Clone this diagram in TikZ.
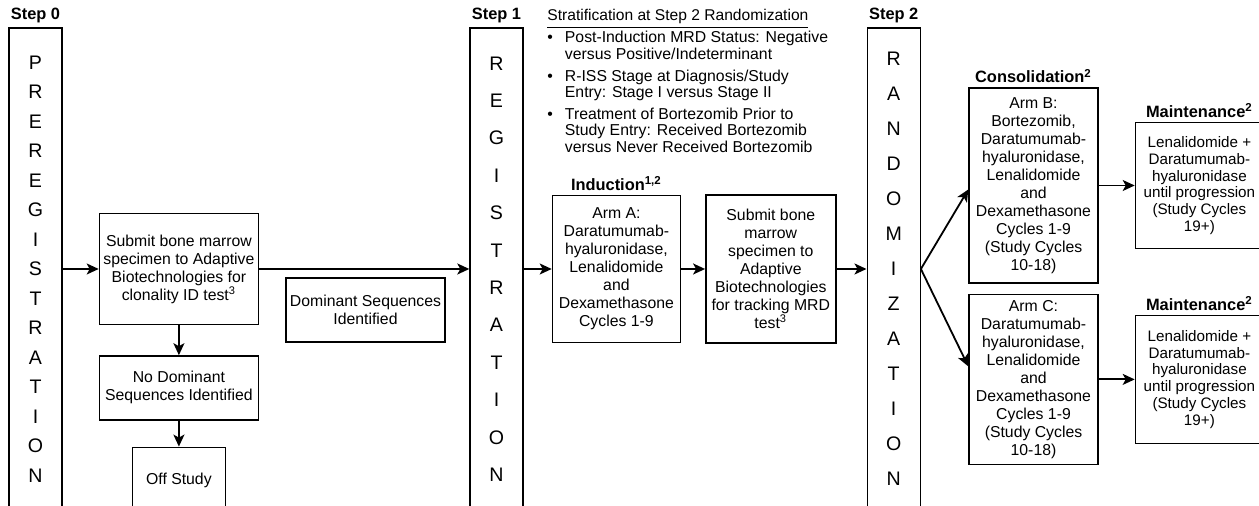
\documentclass[tikz,border=0pt]{standalone}
\usepackage{fontspec}
\setmainfont{Liberation Sans}
\usetikzlibrary{positioning,arrows.meta}

\begin{document}
\begin{tikzpicture}[x=0.5pt,y=-0.5pt,
  box/.style={draw,line width=0.7pt,align=center,inner sep=1pt,font=\fontsize{7.9}{9}\selectfont},
  stepbar/.style={draw,line width=0.7pt,align=center,inner sep=0pt,minimum width=26.5pt,minimum height=241pt},
  steplabel/.style={inner sep=1pt,font=\fontsize{8.2}{9}\selectfont\bfseries},
  flow/.style={-{Stealth[length=6pt,width=5.5pt,inset=1.5pt]},line width=0.9pt}]

  \clip (0,0) rectangle (1259,506);

  % Nodes

  \node[stepbar,font=\fontsize{9.8}{14.75}\selectfont] (pre_reg) at (35.5,269) {P\\R\\E\\R\\E\\G\\I\\S\\T\\R\\A\\T\\I\\O\\N};
  \node[steplabel,above=1pt of pre_reg] (step_0) {Step 0};

  \node[box,minimum width=79.5pt,minimum height=55.5pt,right=18pt of pre_reg] (submit_id) {Submit bone marrow\\specimen to Adaptive\\Biotechnologies for\\clonality ID test\textsuperscript{3}};
  \node[box,minimum width=79.5pt,minimum height=32pt,below=15pt of submit_id] (no_dom) {No Dominant\\Sequences Identified};
  \node[box,minimum width=46.5pt,minimum height=33pt,below=13pt of no_dom] (off_study) {Off Study};
  \node[box,minimum width=79.5pt,minimum height=32pt] (dom_seq) at (365.5,310) {Dominant Sequences\\Identified};

  \node[stepbar,font=\fontsize{9.8}{18.7}\selectfont] (reg) at (496.5,269) {R\\E\\G\\I\\S\\T\\R\\A\\T\\I\\O\\N};
  \node[steplabel,above=1pt of reg] (step_1) {Step 1};

  \node[anchor=base west,inner sep=0pt,font=\fontsize{7.8}{8}\selectfont] (strat) at (547,21) {\underline{Stratification at Step 2 Randomization}};
  \node[anchor=north west,inner sep=0pt,font=\fontsize{7.9}{8}\selectfont] (strat_list) at (547,31) {%
    \begin{tabular}{@{}l@{\hspace{6pt}}l@{}}
      \textbullet & Post-Induction MRD Status: Negative\\
                  & versus Positive/Indeterminant\\[3pt]
      \textbullet & R-ISS Stage at Diagnosis/Study\\
                  & Entry: Stage I versus Stage II\\[3pt]
      \textbullet & Treatment of Bortezomib Prior to\\
                  & Study Entry: Received Bortezomib\\
                  & versus Never Received Bortezomib
    \end{tabular}};

  \node[box,minimum width=64pt,minimum height=73.5pt,right=14pt of reg] (arm_a) {Arm A:\\Daratumumab-\\hyaluronidase,\\Lenalidomide\\and\\Dexamethasone\\Cycles 1-9};
  \node[steplabel,above=1pt of arm_a] (induction) {Induction\textsuperscript{1,2}};
  \node[box,minimum width=65pt,minimum height=74pt,right=12pt of arm_a] (submit_mrd) {Submit bone\\marrow\\specimen to\\Adaptive\\Biotechnologies\\for tracking MRD\\test\textsuperscript{3}};

  \node[stepbar,font=\fontsize{9.8}{17.5}\selectfont,right=15pt of submit_mrd] (rand) {R\\A\\N\\D\\O\\M\\I\\Z\\A\\T\\I\\O\\N};
  \node[steplabel,above=1pt of rand] (step_2) {Step 2};

  \node[box,minimum width=64.5pt,minimum height=97.5pt] (arm_b) at (1033.5,185.5) {Arm B:\\Bortezomib,\\Daratumumab-\\hyaluronidase,\\Lenalidomide\\and\\Dexamethasone\\Cycles 1-9\\(Study Cycles\\10-18)};
  \node[steplabel,above=1pt of arm_b] (consol) {Consolidation\textsuperscript{2}};
  \node[box,minimum width=64.5pt,minimum height=85pt,below=5pt of arm_b] (arm_c) {Arm C:\\Daratumumab-\\hyaluronidase,\\Lenalidomide\\and\\Dexamethasone\\Cycles 1-9\\(Study Cycles\\10-18)};

  \node[box,font=\fontsize{7.6}{8.4}\selectfont,minimum width=64pt,minimum height=63pt,right=18pt of arm_b] (maint_b) {Lenalidomide +\\Daratumumab-\\hyaluronidase\\until progression\\(Study Cycles\\19+)};
  \node[steplabel,above=1pt of maint_b] (maint_b_lbl) {Maintenance\textsuperscript{2}};
  \node[box,font=\fontsize{7.6}{8.4}\selectfont,minimum width=64pt,minimum height=64pt,right=18pt of arm_c] (maint_c) {Lenalidomide +\\Daratumumab-\\hyaluronidase\\until progression\\(Study Cycles\\19+)};
  \node[steplabel,above=1pt of maint_c] (maint_c_lbl) {Maintenance\textsuperscript{2}};

  % Edges

  \draw[flow] (pre_reg.east |- submit_id) -- (submit_id); %
  \draw[flow] (submit_id) -- (submit_id -| reg.west); %
  \draw[flow] (submit_id) -- (no_dom); %
  \draw[flow] (no_dom) -- (off_study); %

  \draw[flow] (reg.east |- arm_a) -- (arm_a); %
  \draw[flow] (arm_a) -- (submit_mrd); %
  \draw[flow] (submit_mrd) -- (rand); %

  \draw[flow] (rand.east) -- ([yshift=-2pt]arm_b.west); %
  \draw[flow] (rand.east) -- ([yshift=6.5pt]arm_c.west); %
  \draw[flow] (arm_b) -- (maint_b); %
  \draw[flow] (arm_c) -- (maint_c); %

\end{tikzpicture}
\end{document}
